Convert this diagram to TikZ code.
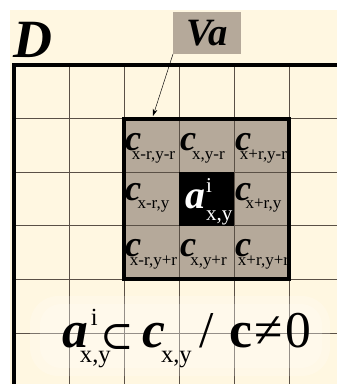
\documentclass[tikz,border=0pt]{standalone}
\usepackage{fontspec}
\setmainfont{Liberation Serif}
\newfontfamily\symfont{DejaVu Serif}
\usepackage{tikz}
\usetikzlibrary{arrows.meta,positioning}
\definecolor{creamcolor}{RGB}{255,247,225}
\definecolor{tancolor}{RGB}{181,169,154}
\definecolor{gridcolor}{RGB}{90,80,70}
\newcommand{\fsz}[1]{\fontsize{#1}{#1}\selectfont}

\begin{document}
\begin{tikzpicture}[x=0.03cm, y=-0.03cm,
    every node/.style={inner sep=0pt, outer sep=0pt},
    gridline/.style={gridcolor, line width=0.8pt},
    border/.style={black, line width=2.6pt},
    bigit/.style={font=\fsz{31}\bfseries\itshape, anchor=base west},
    subtxt/.style={font=\fsz{14.5}, anchor=base},
    eqbig/.style={font=\fsz{44}, anchor=base west},
    eqsub/.style={font=\fsz{21}, anchor=base west}]
  \useasboundingbox (0,0) rectangle (337,384);
  \fill[creamcolor] (10,10) rectangle (337,384);

  % neighbourhood Va
  \fill[tancolor] (124,118.6) rectangle (289,279.4);

  % grid of D
  \foreach \x in {69,124,...,289} \draw[gridline] (\x,65) -- (\x,384);
  \foreach \y in {118.6,172.2,225.8,279.4,333} \draw[gridline] (14,\y) -- (337,\y);
  \fill[black] (179,172.2) rectangle (234,225.8);
  \draw[border] (14,384) -- (14,65) -- (337,65);
  \draw[black, line width=3.4pt] (124,118.6) rectangle (289,279.4);

  % labels
  \node[font=\fsz{46}\bfseries\itshape, anchor=base west] (dlabel) at (14,57) {D};
  \node[fill=tancolor, font=\fsz{33}\bfseries\itshape, minimum width=2.04cm, minimum height=1.26cm] (va) at (207,33) {Va};
  \coordinate (vatip) at (153,116);
  \draw[-{Stealth[length=6pt,width=4pt]}, thin] (va.south west) -- (vatip);

  % neighbour cells
  \foreach \i/\j/\cb/\sb/\sub in {
      0/0/32/41/{x-r,y-r}, 1/0/32/41/{x,y-r}, 2/0/32/41/{x+r,y-r},
      0/1/28/36/{x-r,y}, 2/1/28/36/{x+r,y},
      0/2/31/40/{x-r,y+r}, 1/2/31/40/{x,y+r}, 2/2/31/40/{x+r,y+r}} {
    \node[bigit] (c\i\j) at ({125+55*\i},{118.6+53.6*\j+\cb}) {c};
    \node[subtxt] (s\i\j) at ({153.5+55*\i},{118.6+53.6*\j+\sb}) {\sub};
  }
  % centre cell
  \node[font=\fsz{34}\bfseries\itshape, white, anchor=base west] (aij) at (185,208) {a};
  \node[font=\fsz{18}, white, anchor=base west] (aisup) at (206,192) {i};
  \node[font=\fsz{18}, white, anchor=base west] (aisub) at (206,220) {x,y};

  % rule below (soft glow behind it)
  \fill[white, opacity=0.2, rounded corners=24pt] (30,296) rectangle (330,376);
  \fill[white, opacity=0.2, rounded corners=18pt] (40,304) rectangle (322,368);
  \node[eqbig, font=\fsz{44}\bfseries\itshape] (fa) at (62,347) {a};
  \node[eqsub] (fasup) at (91,325) {i};
  \node[eqsub] (fasub) at (80,362) {x,y};
  \node[font=\fsz{34}\symfont, anchor=base west] (fsubset) at (100,349) {⊂};
  \node[eqbig, font=\fsz{44}\bfseries\itshape] (fc) at (142,347) {c};
  \node[eqsub] (fcsub) at (161,362) {x,y};
  \node[eqbig] (fslash) at (199,347) {/};
  \node[eqbig, font=\fsz{44}\bfseries] (fcc) at (229,347) {c};
  \node[eqbig] (fneq) at (254,347) {≠};
  \node[eqbig] (fzero) at (285,347) {0};
\end{tikzpicture}
\end{document}
